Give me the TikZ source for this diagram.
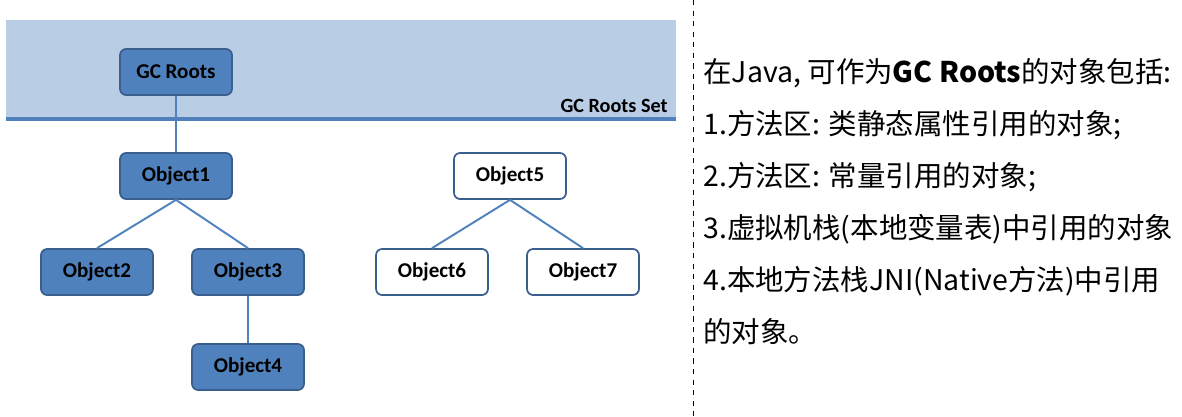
\documentclass[tikz,border=0pt]{standalone}
\usepackage{fontspec}
\setmainfont{Carlito}
\newfontfamily\cjk{Noto Sans CJK SC}
\usetikzlibrary{positioning}

\definecolor{rootblue}{HTML}{4F81BD}
\definecolor{rootedge}{HTML}{3A5F8C}
\definecolor{setband}{HTML}{B9CDE5}

\tikzset{
  obj/.style={draw=rootedge, line width=1pt, fill=rootblue, rounded corners=3.5pt,
              minimum width=2.24cm, minimum height=0.92cm,
              font=\fontsize{12}{14}\selectfont\bfseries},
  lost/.style={obj, fill=white},
  link/.style={rootblue, line width=1.1pt}
}

\begin{document}
\begin{tikzpicture}[x=0.02cm, y=-0.02cm]
  \useasboundingbox (0,0) rectangle (1182,416);

  % The band of the root set, with its lower border
  \fill[setband] (6,20) rectangle (676,118);
  \draw[rootblue, line width=1.8pt] (6,119) -- (676,119);
  \node[anchor=base east, inner sep=0, font=\fontsize{11.5}{13}\selectfont\bfseries] (setlabel) at (668,112) {GC Roots Set};

  % Reachable objects (blue)
  \node[obj] (roots) at (176,72) {GC Roots};
  \node[obj] (o1) at (176,176) {Object1};
  \node[obj] (o2) at (97,272) {Object2};
  \node[obj] (o3) at (248,272) {Object3};
  \node[obj] (o4) at (248,367) {Object4};

  % Unreachable objects (white)
  \node[lost] (o5) at (510,176) {Object5};
  \node[lost] (o6) at (432,272) {Object6};
  \node[lost] (o7) at (583,272) {Object7};

  % References
  \draw[link] (roots) -- (o1);
  \draw[link] (o1.south) -- (o2.north);
  \draw[link] (o1.south) -- (o3.north);
  \draw[link] (o3) -- (o4);
  \draw[link] (o5.south) -- (o6.north);
  \draw[link] (o5.south) -- (o7.north);

  % Divider between picture and notes
  \draw[dashed, line width=0.5pt] (693,0) -- (693,416);

  % The notes on the right
  \node[anchor=north west, align=left, inner sep=0,
        font=\cjk\fontsize{16.2}{29.6}\selectfont] (notes) at (703,58)
    {在Java, 可作为\textbf{GC Roots}的对象包括:\\
     1.方法区: 类静态属性引用的对象;\\
     2.方法区: 常量引用的对象;\\
     3.虚拟机栈(本地变量表)中引用的对象\\
     4.本地方法栈JNI(Native方法)中引用\\
     的对象。};
\end{tikzpicture}
\end{document}
